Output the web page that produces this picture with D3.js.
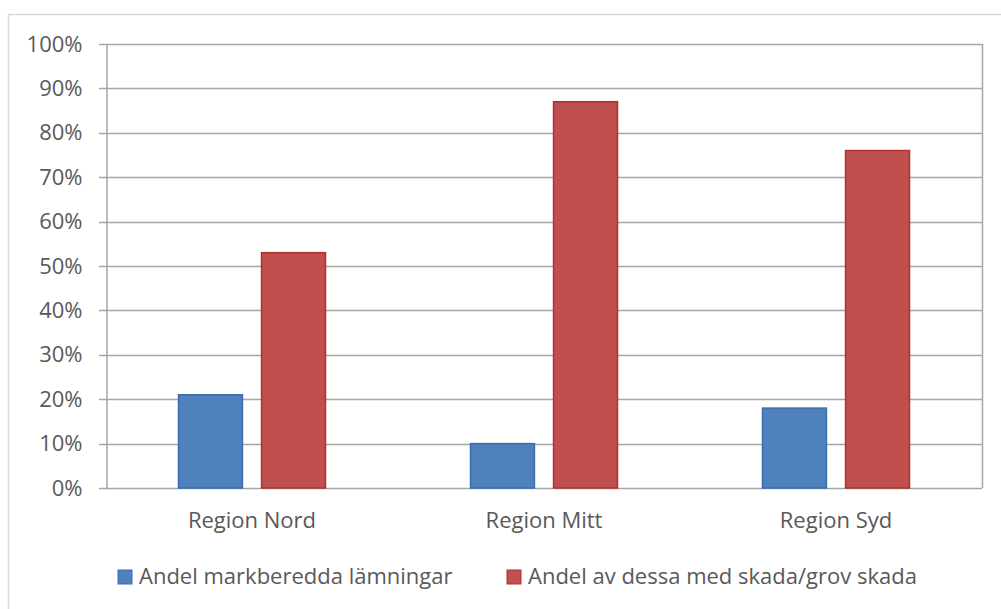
<!DOCTYPE html>
<html>
<head>
<meta charset="utf-8">
<script src="https://cdn.jsdelivr.net/npm/d3@7"></script>
<style>
  body { margin: 0; background: #fff; }
  text { font-family: "Open Sans", sans-serif; fill: #595959; }
</style>
</head>
<body>
<script>
// data
var categories = ["Region Nord", "Region Mitt", "Region Syd"];
var seriesNames = ["Andel markberedda lämningar", "Andel av dessa med skada/grov skada"];
var markberedda = [0.21, 0.10, 0.18];
var skada = [0.53, 0.87, 0.76];
var yTicks = [0, 0.1, 0.2, 0.3, 0.4, 0.5, 0.6, 0.7, 0.8, 0.9, 1.0];

var colors = ["#4F81BD", "#C0504D"];
var strokes = ["#3A6DB0", "#B0302C"];

var width = 1001, height = 609;
var plot = {left: 106, top: 44, right: 982, bottom: 488};

var svg = d3.select("body").append("svg")
  .attr("width", width)
  .attr("height", height);

// outer chart border
svg.append("rect")
  .attr("x", 8.5).attr("y", 14.5)
  .attr("width", 1010).attr("height", 620)
  .attr("fill", "none")
  .attr("stroke", "#d9d9d9")
  .attr("stroke-width", 1.5);

var x0 = d3.scaleBand()
  .domain(categories)
  .range([plot.left, plot.right]);

var x1 = d3.scaleBand()
  .domain([0, 1])
  .range([0, 147])
  .paddingInner(0.23);

var y = d3.scaleLinear()
  .domain([0, 1])
  .range([plot.bottom, plot.top]);

// gridlines
svg.append("g")
  .selectAll("line")
  .data(yTicks)
  .enter().append("line")
  .attr("x1", plot.left - 7)
  .attr("x2", plot.right)
  .attr("y1", function(d) { return Math.round(y(d)) + 0.5; })
  .attr("y2", function(d) { return Math.round(y(d)) + 0.5; })
  .attr("stroke", "#a6a6a6")
  .attr("stroke-width", 1.5);

// right edge of plot area
svg.append("line")
  .attr("x1", plot.right + 0.5).attr("x2", plot.right + 0.5)
  .attr("y1", plot.top).attr("y2", plot.bottom)
  .attr("stroke", "#a6a6a6")
  .attr("stroke-width", 1.5);

// y axis
var yAxis = d3.axisLeft(y)
  .tickValues(yTicks)
  .tickFormat(d3.format(".0%"))
  .tickSize(0)
  .tickPadding(24);

var gy = svg.append("g")
  .attr("transform", "translate(" + (plot.left + 0.5) + ",0)")
  .call(yAxis);
gy.select(".domain").attr("stroke", "#a6a6a6").attr("stroke-width", 1.5);
gy.selectAll("text")
  .style("font-size", "22px")
  .style("font-family", "'Open Sans', sans-serif")
  .attr("fill", "#595959");

// x labels
svg.append("g")
  .selectAll("text")
  .data(categories)
  .enter().append("text")
  .attr("x", function(d) { return x0(d) + x0.bandwidth() / 2; })
  .attr("y", 528)
  .attr("text-anchor", "middle")
  .style("font-size", "22px")
  .text(function(d) { return d; });

// bars
var rows = categories.map(function(c, i) {
  return {cat: c, values: [markberedda[i], skada[i]]};
});

var groups = svg.append("g")
  .selectAll("g")
  .data(rows)
  .enter().append("g")
  .attr("transform", function(d) {
    return "translate(" + (x0(d.cat) + x0.bandwidth() / 2 - 73.5) + ",0)";
  });

groups.selectAll("rect")
  .data(function(d) { return d.values.map(function(v, j) { return {v: v, s: j}; }); })
  .enter().append("rect")
  .attr("x", function(d) { return x1(d.s); })
  .attr("width", x1.bandwidth())
  .attr("y", function(d) { return y(d.v); })
  .attr("height", function(d) { return plot.bottom - y(d.v); })
  .attr("fill", function(d) { return colors[d.s]; })
  .attr("stroke", function(d) { return strokes[d.s]; })
  .attr("stroke-width", 1.5);

// legend
var legendX = [118, 507];
var legend = svg.append("g")
  .selectAll("g")
  .data(seriesNames)
  .enter().append("g")
  .attr("transform", function(d, i) { return "translate(" + legendX[i] + ",570)"; });

legend.append("rect")
  .attr("width", 14).attr("height", 14)
  .attr("fill", function(d, i) { return colors[i]; })
  .attr("stroke", function(d, i) { return strokes[i]; })
  .attr("stroke-width", 1);

legend.append("text")
  .attr("x", 21)
  .attr("y", 14)
  .style("font-size", "22px")
  .text(function(d) { return d; });
</script>
</body>
</html>
